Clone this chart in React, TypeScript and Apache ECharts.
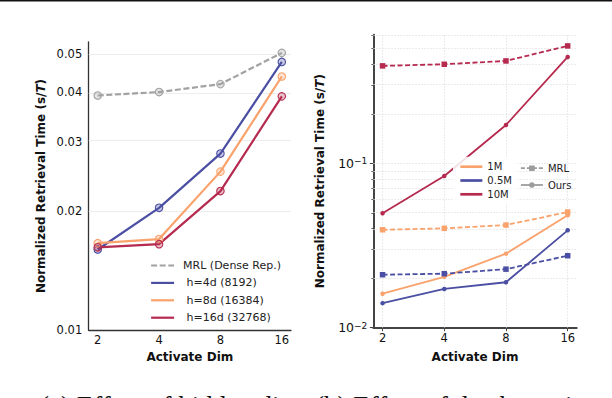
import React, { useEffect, useRef } from 'react';
import * as echarts from 'echarts';

// ---------- data ----------
const activateDims = [2, 4, 8, 16];

// (a) effect of hidden dim
const hiddenNames = ['MRL (Dense Rep.)', ' h=4d (8192)', ' h=8d (16384)', ' h=16d (32768)'];
const mrlDense = [0.0393, 0.0401, 0.042, 0.0504];
const h4d = [0.016, 0.0204, 0.028, 0.0478];
const h8d = [0.0166, 0.017, 0.0252, 0.0439];
const h16d = [0.0162, 0.0165, 0.0225, 0.0391];
const leftYTicks = [0.01, 0.02, 0.03, 0.04, 0.05];
const leftYRange = [0.01, 0.0537];

// (b) effect of database size
const dbSizes = ['1M', '0.5M', '10M'];
const methods = ['MRL', 'Ours'];
const ours1M = [0.0161, 0.0204, 0.0282, 0.0483];
const mrl1M = [0.0394, 0.0402, 0.0421, 0.0505];
const ours05M = [0.0141, 0.0172, 0.0189, 0.0391];
const mrl05M = [0.021, 0.0213, 0.0227, 0.0274];
const ours10M = [0.0497, 0.0837, 0.171, 0.443];
const mrl10M = [0.391, 0.4, 0.419, 0.517];
const rightYMajor = [0.01, 0.1];
const rightYMinor = [0.02, 0.03, 0.04, 0.05, 0.06, 0.07, 0.08, 0.09, 0.2, 0.3, 0.4, 0.5, 0.6];
const rightYRange = [0.01, 0.605];

const captions = ['(a) Effect of hidden dim', '(b) Effect of database size'];

// ---------- styles ----------
const BLUE = '#4b4fa3';
const ORANGE = '#f9a26c';
const RED = '#b52a4e';
const GRAY = '#a2a2a2';
const FONT = 'DejaVu Sans';

const lg = (v: number) => Math.log10(v);
const xs = activateDims.map((d) => Math.log2(d));
const pts = (vals: number[]) => activateDims.map((d, i) => [Math.log2(d), Math.log10(vals[i])]);
const rgba = (hex: string, a: number) => {
  const n = parseInt(hex.slice(1), 16);
  return `rgba(${(n >> 16) & 255},${(n >> 8) & 255},${n & 255},${a})`;
};

function buildOption() {
  const xAxisBase = (gridIndex: number) => ({
    type: 'value',
    gridIndex,
    min: gridIndex === 0 ? 0.853 : 0.85,
    max: gridIndex === 0 ? 4.15 : 4.146,
    name: 'Activate Dim',
    nameLocation: 'middle',
    nameGap: gridIndex === 0 ? 21 : 23.5,
    nameMoveOverlap: false,
    nameTextStyle: { fontFamily: FONT, fontWeight: 'bold', fontSize: 12, color: '#111' },
    axisLine: {
      show: true,
      onZero: false,
      lineStyle: { color: gridIndex === 0 ? '#333' : '#444', width: gridIndex === 0 ? 1.3 : 2 },
    },
    axisTick: {
      show: gridIndex === 1,
      customValues: xs,
      length: 3.5,
      lineStyle: { color: '#444', width: 1 },
    },
    axisLabel: {
      customValues: xs,
      formatter: (v: number) => String(Math.round(Math.pow(2, v))),
      fontFamily: FONT,
      fontSize: 11.5,
      color: '#111',
      margin: 4,
    },
    splitLine: { show: false },
  });

  const leftLine = (name: string, vals: number[], color: string, dashed: boolean, withGrid: boolean) => ({
    name,
    type: 'line',
    xAxisIndex: 0,
    yAxisIndex: 0,
    data: pts(vals),
    symbol: 'circle',
    symbolSize: 7.5,
    color,
    lineStyle: { color, width: 2.2, type: dashed ? [6, 2.6] : 'solid' },
    itemStyle: { color: rgba(color, 0.3), borderColor: color, borderWidth: 1.1 },
    markLine: withGrid
      ? {
          silent: true,
          z: 1,
          symbol: ['none', 'none'],
          label: { show: false },
          lineStyle: { color: '#e9e9e9', width: 0.8, type: 'solid' },
          data: leftYTicks.slice(1).map((v) => ({ yAxis: lg(v) })),
        }
      : undefined,
  });

  const rightLine = (name: string, vals: number[], color: string, mrl: boolean, withGrid: boolean) => ({
    name,
    type: 'line',
    xAxisIndex: 1,
    yAxisIndex: 1,
    data: pts(vals),
    symbol: mrl ? 'rect' : 'circle',
    symbolSize: mrl ? 5.5 : 4.5,
    color,
    lineStyle: { color, width: 1.8, type: mrl ? [5, 2.5] : 'solid' },
    itemStyle: { color },
    markLine: withGrid
      ? {
          silent: true,
          z: 1,
          symbol: ['none', 'none'],
          label: { show: false },
          lineStyle: { color: '#dedede', width: 0.8, type: [1.5, 1.5] },
          data: [
            ...rightYMinor.map((v) => ({ yAxis: lg(v) })),
            { yAxis: lg(rightYMajor[1]) },
            ...xs.map((x) => ({ xAxis: x })),
          ],
        }
      : undefined,
  });

  const dummy = (name: string, color: string, symbol: string, dashed: boolean, width: number) => ({
    name,
    type: 'line',
    xAxisIndex: 1,
    yAxisIndex: 1,
    data: [],
    symbol,
    symbolSize: 5,
    color,
    lineStyle: { color, width, type: dashed ? [4, 2] : 'solid' },
    itemStyle: { color },
  });

  return {
    animation: false,
    backgroundColor: '#fff',
    textStyle: { fontFamily: FONT },
    grid: [
      { left: 88.7, top: 42, width: 202.3, height: 288 },
      { left: 373.3, top: 34.7, width: 203.4, height: 293 },
    ],
    xAxis: [xAxisBase(0), xAxisBase(1)],
    yAxis: [
      {
        type: 'value',
        gridIndex: 0,
        min: lg(leftYRange[0]),
        max: lg(leftYRange[1]),
        name: 'Normalized Retrieval Time (s/{it|T})',
        nameLocation: 'middle',
        nameGap: 42,
        nameMoveOverlap: false,
        nameTextStyle: {
          fontFamily: FONT,
          fontWeight: 'bold',
          fontSize: 12,
          color: '#111',
          rich: { it: { fontFamily: FONT, fontWeight: 'bold', fontStyle: 'italic', fontSize: 12, color: '#111' } },
        },
        axisLine: { show: true, onZero: false, lineStyle: { color: '#333', width: 1.3 } },
        axisTick: { show: false, customValues: leftYTicks.map(lg) },
        axisLabel: {
          customValues: leftYTicks.map(lg),
          formatter: (v: number) => Math.pow(10, v).toFixed(2),
          fontFamily: FONT,
          fontSize: 11.5,
          color: '#111',
          margin: 6.5,
        },
        splitLine: { show: false },
      },
      {
        type: 'value',
        gridIndex: 1,
        min: lg(rightYRange[0]),
        max: lg(rightYRange[1]),
        name: 'Normalized Retrieval Time (s/{it|T})',
        nameLocation: 'middle',
        nameGap: 47,
        nameMoveOverlap: false,
        nameTextStyle: {
          fontFamily: FONT,
          fontWeight: 'bold',
          fontSize: 12,
          color: '#111',
          rich: { it: { fontFamily: FONT, fontWeight: 'bold', fontStyle: 'italic', fontSize: 12, color: '#111' } },
        },
        axisLine: { show: true, onZero: false, lineStyle: { color: '#444', width: 2 } },
        axisTick: { show: true, customValues: rightYMajor.map(lg), length: 3.5, lineStyle: { color: '#444', width: 1 } },
        axisLabel: {
          customValues: rightYMajor.map(lg),
          formatter: (v: number) => `10{sup|\u2212${Math.abs(Math.round(v))}}`,
          fontFamily: FONT,
          fontSize: 12.5,
          color: '#111',
          margin: 6,
          rich: { sup: { fontFamily: FONT, fontSize: 9, color: '#111', verticalAlign: 'top', lineHeight: 9 } },
        },
        splitLine: { show: false },
      },
      {
        type: 'value',
        gridIndex: 1,
        position: 'left',
        min: lg(rightYRange[0]),
        max: lg(rightYRange[1]),
        axisLine: { show: false },
        axisTick: { show: true, customValues: rightYMinor.map(lg), length: 2, lineStyle: { color: '#444', width: 0.8 } },
        axisLabel: { show: false, customValues: rightYMinor.map(lg) },
        splitLine: { show: false },
      },
    ],
    legend: [
      {
        left: 150,
        top: 260,
        orient: 'vertical',
        itemWidth: 23,
        itemHeight: 10,
        itemGap: 6.4,
        padding: 0,
        data: hiddenNames,
        itemStyle: { opacity: 0 },
        lineStyle: { width: 'inherit' },
        textStyle: { fontFamily: FONT, fontSize: 11, color: '#222', padding: [0, 0, 0, 4] },
        selectedMode: false,
      },
      {
        left: 453,
        top: 156.7,
        orient: 'vertical',
        itemWidth: 22,
        itemHeight: 10,
        itemGap: 3.8,
        padding: [5, 6, 5, 6],
        backgroundColor: 'rgba(255,255,255,0.85)',
        data: dbSizes.map((n) => ({ name: n, itemStyle: { opacity: 0 } })),
        lineStyle: { width: 'inherit' },
        textStyle: { fontFamily: FONT, fontSize: 10, color: '#222' },
        selectedMode: false,
      },
      {
        left: 520,
        top: 163.2,
        orient: 'vertical',
        itemWidth: 22,
        itemHeight: 7,
        itemGap: 6.8,
        padding: 0,
        data: methods,
        lineStyle: { width: 'inherit' },
        textStyle: { fontFamily: FONT, fontSize: 10, color: '#222' },
        selectedMode: false,
      },
    ],
    series: [
      leftLine(hiddenNames[0], mrlDense, GRAY, true, true),
      leftLine(hiddenNames[1], h4d, BLUE, false, false),
      leftLine(hiddenNames[2], h8d, ORANGE, false, false),
      leftLine(hiddenNames[3], h16d, RED, false, false),
      rightLine('10M MRL', mrl10M, RED, true, true),
      rightLine('10M Ours', ours10M, RED, false, false),
      rightLine('1M MRL', mrl1M, ORANGE, true, false),
      rightLine('1M Ours', ours1M, ORANGE, false, false),
      rightLine('0.5M MRL', mrl05M, BLUE, true, false),
      rightLine('0.5M Ours', ours05M, BLUE, false, false),
      dummy(dbSizes[0], ORANGE, 'none', false, 2.7),
      dummy(dbSizes[1], BLUE, 'none', false, 2.7),
      dummy(dbSizes[2], RED, 'none', false, 2.7),
      dummy(methods[0], '#9c9c9c', 'rect', true, 1.8),
      dummy(methods[1], '#9c9c9c', 'circle', false, 1.8),
    ],
    graphic: [
      { type: 'rect', left: 0, top: 0, shape: { width: 612, height: 1.5 }, style: { fill: '#111' }, silent: true },
      {
        type: 'text',
        x: 40,
        y: 392,
        silent: true,
        style: { text: captions[0], font: '27px "Liberation Serif"', fill: '#111', verticalAlign: 'top' },
      },
      {
        type: 'text',
        x: 315,
        y: 392,
        silent: true,
        style: { text: captions[1], font: '27px "Liberation Serif"', fill: '#111', verticalAlign: 'top' },
      },
    ],
  };
}

export default function App() {
  const ref = useRef<HTMLDivElement>(null);
  useEffect(() => {
    if (!ref.current) return;
    const chart = echarts.init(ref.current, undefined, { renderer: 'svg' });
    chart.setOption(buildOption() as any);
    return () => chart.dispose();
  }, []);
  return (
    <div
      ref={ref}
      style={{ position: 'absolute', left: 0, top: 0, width: 612, height: 398, overflow: 'hidden', background: '#fff' }}
    />
  );
}
